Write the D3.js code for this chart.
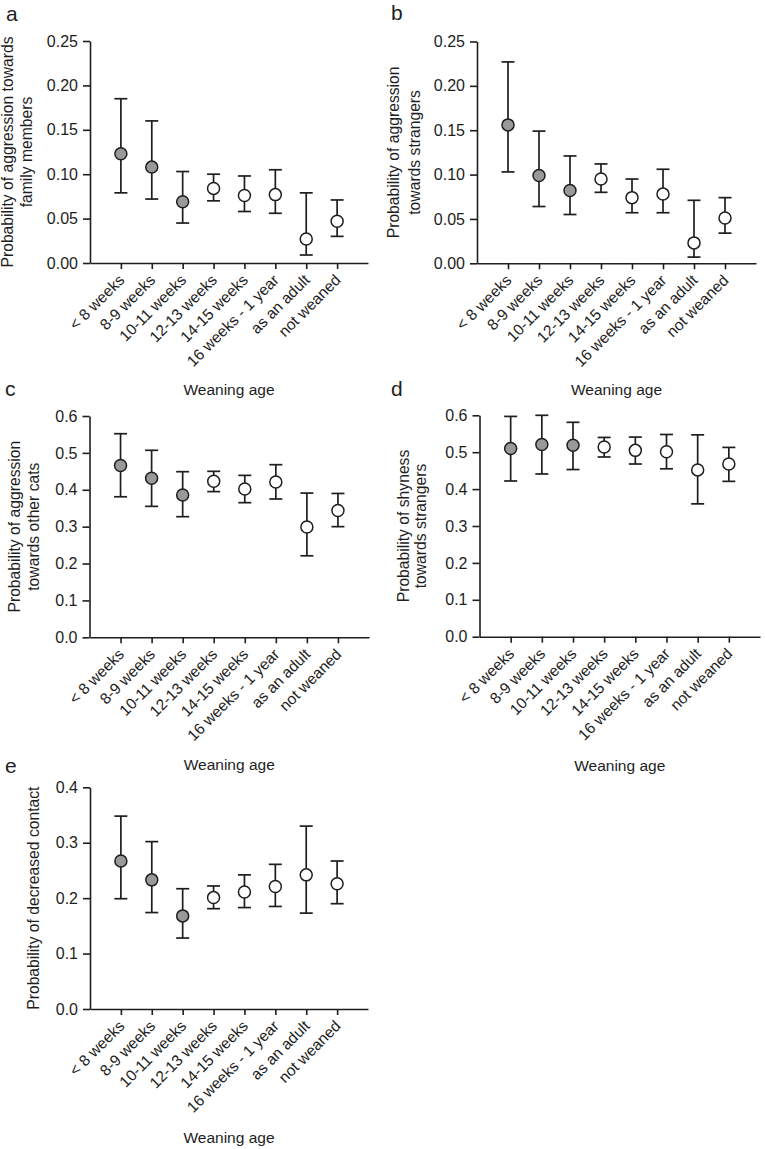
<!DOCTYPE html>
<html>
<head>
<meta charset="utf-8">
<script src="https://cdn.jsdelivr.net/npm/d3@7"></script>
<style>
  html, body { margin: 0; padding: 0; background: #ffffff; }
  svg { display: block; font-family: "Liberation Sans", Arial, sans-serif; }
</style>
</head>
<body>
<svg id="chart" width="765" height="1149"></svg>
<script>
// ---------------- DATA ----------------
const categories = ["< 8 weeks", "8-9 weeks", "10-11 weeks", "12-13 weeks",
                    "14-15 weeks", "16 weeks - 1 year", "as an adult", "not weaned"];
const filledGroups = [true, true, true, false, false, false, false, false];

// a: aggression towards family members
const aMean  = [0.123, 0.108, 0.069, 0.084, 0.076, 0.077, 0.027, 0.047];
const aLower = [0.079, 0.072, 0.045, 0.070, 0.058, 0.056, 0.009, 0.030];
const aUpper = [0.185, 0.160, 0.103, 0.100, 0.098, 0.105, 0.079, 0.071];

// b: aggression towards strangers
const bMean  = [0.156, 0.099, 0.082, 0.095, 0.074, 0.078, 0.023, 0.051];
const bLower = [0.103, 0.064, 0.055, 0.080, 0.057, 0.057, 0.007, 0.034];
const bUpper = [0.227, 0.149, 0.121, 0.112, 0.095, 0.106, 0.071, 0.074];

// c: aggression towards other cats
const cMean  = [0.466, 0.431, 0.386, 0.423, 0.402, 0.421, 0.299, 0.344];
const cLower = [0.381, 0.355, 0.327, 0.395, 0.365, 0.375, 0.221, 0.300];
const cUpper = [0.552, 0.507, 0.449, 0.450, 0.439, 0.468, 0.391, 0.390];

// d: shyness towards strangers
const dMean  = [0.510, 0.521, 0.519, 0.514, 0.505, 0.501, 0.452, 0.468];
const dLower = [0.422, 0.441, 0.453, 0.487, 0.468, 0.455, 0.360, 0.421];
const dUpper = [0.597, 0.600, 0.581, 0.540, 0.541, 0.548, 0.547, 0.513];

// e: decreased contact
const eMean  = [0.267, 0.233, 0.168, 0.201, 0.211, 0.221, 0.242, 0.226];
const eLower = [0.199, 0.174, 0.128, 0.181, 0.183, 0.185, 0.173, 0.190];
const eUpper = [0.348, 0.302, 0.217, 0.222, 0.242, 0.261, 0.330, 0.267];

const aTicks = [0, 0.05, 0.10, 0.15, 0.20, 0.25];
const cTicks = [0, 0.1, 0.2, 0.3, 0.4, 0.5, 0.6];
const eTicks = [0, 0.1, 0.2, 0.3, 0.4];

const xTitle = "Weaning age";

// ---------------- LAYOUT ----------------
const panels = [
  { letter: "a", mean: aMean, lower: aLower, upper: aUpper, ticks: aTicks, fmt: ".2f",
    title: ["Probability of aggression towards", "family members"],
    x0: 90, x1: 368, yTop: 41, yBot: 263, titleOff: [77.5, 58],
    letterPos: [6, 21], xTitleY: 395 },
  { letter: "b", mean: bMean, lower: bLower, upper: bUpper, ticks: aTicks, fmt: ".2f",
    title: ["Probability of aggression", "towards strangers"],
    x0: 477, x1: 756, yTop: 41.5, yBot: 263.3, titleOff: [78, 57],
    letterPos: [391, 20], xTitleY: 395 },
  { letter: "c", mean: cMean, lower: cLower, upper: cUpper, ticks: cTicks, fmt: ".1f",
    title: ["Probability of aggression", "towards other cats"],
    x0: 89.5, x1: 369, yTop: 416, yBot: 637.3, titleOff: [69.5, 50.5],
    letterPos: [5, 396], xTitleY: 770 },
  { letter: "d", mean: dMean, lower: dLower, upper: dUpper, ticks: cTicks, fmt: ".1f",
    title: ["Probability of shyness", "towards strangers"],
    x0: 479.5, x1: 760, yTop: 415.3, yBot: 636.7, titleOff: [71, 54],
    letterPos: [391, 396], xTitleY: 771 },
  { letter: "e", mean: eMean, lower: eLower, upper: eUpper, ticks: eTicks, fmt: ".1f",
    title: ["Probability of decreased contact"],
    x0: 90, x1: 368, yTop: 787.3, yBot: 1009, titleOff: [51.5],
    letterPos: [5, 773], xTitleY: 1143 }
];

const ink = "#1e1e1e";
const greyFill = "#999999";
const svg = d3.select("#chart");

panels.forEach(p => {
  const g = svg.append("g");
  const x = d3.scalePoint().domain(categories).range([p.x0, p.x1]).padding(1);
  const yMax = p.ticks[p.ticks.length - 1];
  const y = d3.scaleLinear().domain([0, yMax]).range([p.yBot, p.yTop]);

  // panel letter
  g.append("text").attr("x", p.letterPos[0]).attr("y", p.letterPos[1])
    .attr("font-size", 21).attr("fill", ink).text(p.letter);

  // y axis
  const yAxis = d3.axisLeft(y).tickValues(p.ticks).tickFormat(d3.format(p.fmt))
    .tickSize(7).tickSizeOuter(0).tickPadding(5);
  const gy = g.append("g").attr("transform", `translate(${p.x0},0)`).call(yAxis);
  gy.selectAll("text").attr("font-size", 16).attr("fill", ink).attr("font-family", null);
  gy.selectAll("line,path").attr("stroke", ink).attr("stroke-width", 1.6);

  // x axis
  const xAxis = d3.axisBottom(x).tickSize(6).tickSizeOuter(0);
  const gx = g.append("g").attr("transform", `translate(0,${p.yBot})`).call(xAxis);
  gx.selectAll("line,path").attr("stroke", ink).attr("stroke-width", 1.6);
  gx.selectAll("text")
    .attr("font-size", 15.5).attr("fill", ink).attr("font-family", null)
    .attr("x", 0).attr("y", 0).attr("dy", 0)
    .attr("text-anchor", "end")
    .attr("transform", "translate(4,18) rotate(-45)");

  // y title
  const yMid = (p.yTop + p.yBot) / 2;
  p.title.forEach((t, i) => {
    g.append("text")
      .attr("transform", `translate(${p.x0 - p.titleOff[i]},${yMid}) rotate(-90)`)
      .attr("text-anchor", "middle").attr("font-size", 15.7).attr("fill", ink)
      .text(t);
  });

  // x title
  g.append("text").attr("x", (p.x0 + p.x1) / 2).attr("y", p.xTitleY)
    .attr("text-anchor", "middle").attr("font-size", 15.5).attr("fill", ink)
    .text(xTitle);

  // error bars + points
  const capHalf = 6.5;
  const rows = categories.map((c, i) => ({ c, m: p.mean[i], lo: p.lower[i], hi: p.upper[i], f: filledGroups[i] }));
  const eb = g.append("g").attr("stroke", ink).attr("stroke-width", 1.7).attr("fill", "none");
  eb.selectAll("line.v").data(rows).join("line").attr("class", "v")
    .attr("x1", d => x(d.c)).attr("x2", d => x(d.c))
    .attr("y1", d => y(d.lo)).attr("y2", d => y(d.hi));
  eb.selectAll("line.top").data(rows).join("line").attr("class", "top")
    .attr("x1", d => x(d.c) - capHalf).attr("x2", d => x(d.c) + capHalf)
    .attr("y1", d => y(d.hi)).attr("y2", d => y(d.hi));
  eb.selectAll("line.bot").data(rows).join("line").attr("class", "bot")
    .attr("x1", d => x(d.c) - capHalf).attr("x2", d => x(d.c) + capHalf)
    .attr("y1", d => y(d.lo)).attr("y2", d => y(d.lo));

  g.append("g").selectAll("circle").data(rows).join("circle")
    .attr("cx", d => x(d.c)).attr("cy", d => y(d.m)).attr("r", 6)
    .attr("fill", d => d.f ? greyFill : "#ffffff")
    .attr("stroke", ink).attr("stroke-width", 1.5);
});
</script>
</body>
</html>
